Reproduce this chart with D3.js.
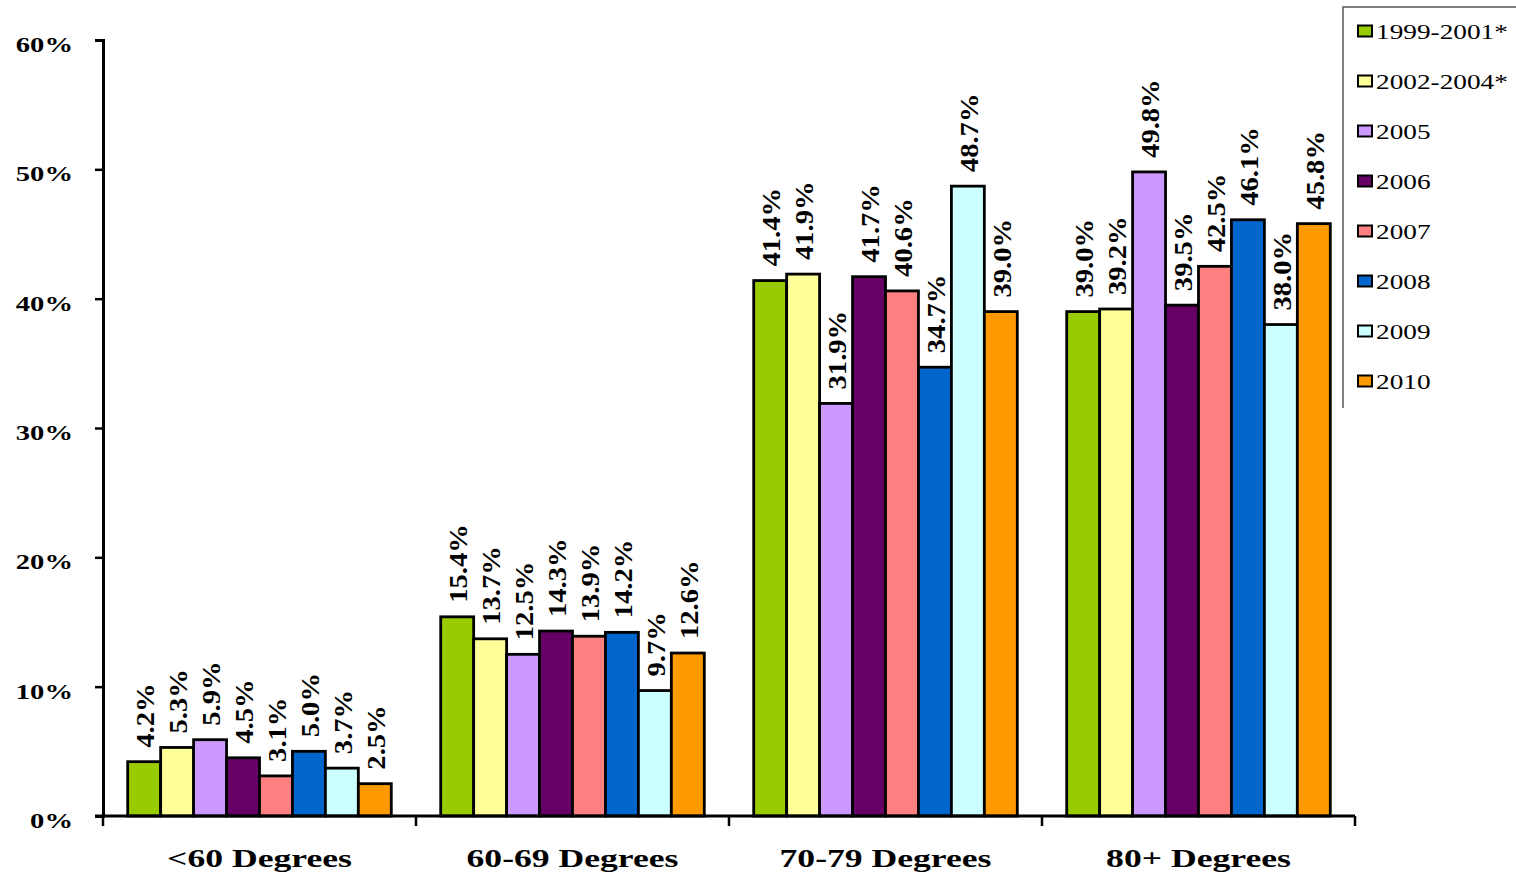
<!DOCTYPE html>
<html><head><meta charset="utf-8">
<script src="https://cdn.jsdelivr.net/npm/d3@7"></script>
<style>body{margin:0;background:#fff}svg{display:block}</style>
</head><body>
<script>
const categories = ["<60 Degrees","60-69 Degrees","70-79 Degrees","80+ Degrees"];
const seriesNames = ["1999-2001*","2002-2004*","2005","2006","2007","2008","2009","2010"];
const seriesColors = ["#99CC00","#FFFF99","#CC99FF","#660066","#FF8080","#0066CC","#CCFFFF","#FF9900"];
const s1999 = [4.2,15.4,41.4,39.0];
const s2002 = [5.3,13.7,41.9,39.2];
const s2005 = [5.9,12.5,31.9,49.8];
const s2006 = [4.5,14.3,41.7,39.5];
const s2007 = [3.1,13.9,40.6,42.5];
const s2008 = [5.0,14.2,34.7,46.1];
const s2009 = [3.7,9.7,48.7,38.0];
const s2010 = [2.5,12.6,39.0,45.8];
const yTicks = [0,10,20,30,40,50,60];
const series = [s1999,s2002,s2005,s2006,s2007,s2008,s2009,s2010];

const W=1516,H=881;
const svg=d3.select("body").append("svg").attr("width",W).attr("height",H);
const x0=d3.scaleBand().domain(categories).range([103,1355]).paddingInner(0).paddingOuter(0);
const x1=d3.scaleBand().domain(seriesNames).range([0,x0.bandwidth()]).paddingOuter(0.75).paddingInner(0);
const y=d3.scaleLinear().domain([0,60]).range([816,40]);
const serif="'Liberation Serif','Times New Roman',serif";

// bars
categories.forEach((c,ci)=>{
  const g=svg.append("g").attr("transform",`translate(${x0(c)},0)`);
  seriesNames.forEach((s,si)=>{
    const v=series[si][ci];
    g.append("rect").attr("x",x1(s)).attr("y",y(v)).attr("width",x1.bandwidth()).attr("height",y(0)-y(v))
      .attr("fill",seriesColors[si]).attr("stroke","#000").attr("stroke-width",2.8);
    const cx=x1(s)+x1.bandwidth()/2, ty=y(v)-14;
    g.append("text").attr("transform",`translate(${cx+10},${ty}) rotate(-90) scale(1.1,1)`)
      .attr("font-family",serif).attr("font-weight","bold").attr("font-size",26)
      .attr("fill","#000").text(v.toFixed(1)+"%");
  });
});

// y axis
const ya=svg.append("g").attr("transform","translate(103,0)")
  .call(d3.axisLeft(y).tickValues(yTicks).tickSize(8).tickFormat(""));
ya.select(".domain").attr("stroke","#000").attr("stroke-width",3);
ya.selectAll(".tick line").attr("stroke","#000").attr("stroke-width",2.5);
svg.append("g").selectAll("text").data(yTicks).enter().append("text")
  .attr("transform",d=>`translate(73,${y(d)+12}) scale(1.3,1)`).attr("text-anchor","end")
  .attr("font-family",serif).attr("font-weight","bold").attr("font-size",22).attr("fill","#000")
  .text(d=>d+"%");

// x axis
const xa=svg.append("g").attr("transform","translate(0,816)");
xa.append("line").attr("x1",95).attr("x2",1355).attr("y1",0).attr("y2",0).attr("stroke","#000").attr("stroke-width",3);
const bounds=categories.map(c=>x0(c)).concat([x0.range()[1]]);
xa.selectAll("line.tk").data(bounds).enter().append("line").attr("class","tk")
  .attr("x1",d=>d).attr("x2",d=>d).attr("y1",0).attr("y2",10).attr("stroke","#000").attr("stroke-width",2.5);
xa.selectAll("text").data(categories).enter().append("text")
  .attr("transform",d=>`translate(${x0(d)+x0.bandwidth()/2},51) scale(1.37,1)`).attr("text-anchor","middle")
  .attr("font-family",serif).attr("font-weight","bold").attr("font-size",26).attr("fill","#000").text(d=>d);

// legend
const lg=svg.append("g");
lg.append("path").attr("d","M1343,408 V7 H1516").attr("fill","none").attr("stroke","#555").attr("stroke-width",1.5);
const ly=d3.scalePoint().domain(seriesNames).range([31,381]);
seriesNames.forEach((s,i)=>{
  lg.append("rect").attr("x",1358).attr("y",ly(s)-5.5).attr("width",14).attr("height",11)
    .attr("fill",seriesColors[i]).attr("stroke","#000").attr("stroke-width",2);
  lg.append("text").attr("transform",`translate(1376,${ly(s)+8}) scale(1.3,1)`).attr("font-family",serif).attr("font-size",21)
    .attr("fill","#000").text(s);
});
</script>
</body></html>
